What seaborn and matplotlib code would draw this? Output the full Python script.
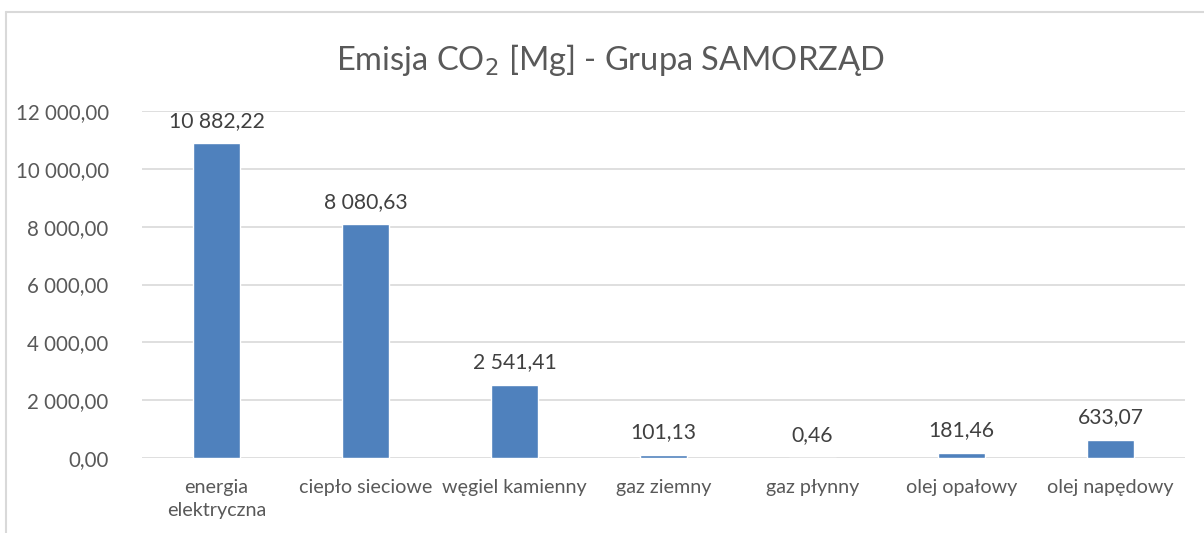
import matplotlib
matplotlib.use("Agg")
import matplotlib.pyplot as plt
import seaborn as sns
from matplotlib.lines import Line2D
from matplotlib.ticker import FuncFormatter

categories = ["energia\nelektryczna", "ciepło sieciowe", "węgiel kamienny", "gaz ziemny",
              "gaz płynny", "olej opałowy", "olej napędowy"]
values = [10882.22, 8080.63, 2541.41, 101.13, 0.46, 181.46, 633.07]
yticks = [0, 2000, 4000, 6000, 8000, 10000, 12000]

sns.set_theme(style="white")
plt.rcParams['font.family'] = ['Lato', 'DejaVu Sans']

def pl_fmt(v):
    s = f"{v:,.2f}"
    return s.replace(",", " ").replace(".", ",")

fig = plt.figure(figsize=(12.04, 5.33), dpi=100)
ax = fig.add_axes([142/1204, 1-458/533, (1185-142)/1204, (458-111)/533])

sns.barplot(x=categories, y=values, color="#4F81BD", width=0.31, ax=ax, saturation=1)

ax.set_ylim(0, 12000)
ax.set_yticks(yticks)
ax.yaxis.set_major_formatter(FuncFormatter(lambda v, p: pl_fmt(v)))
ax.yaxis.grid(True, color="#D9D9D9", lw=1.2)
ax.set_axisbelow(True)
for s in ax.spines.values():
    s.set_visible(False)
ax.tick_params(axis='y', labelsize=14.8, colors="#595959", length=0, pad=24)
ax.tick_params(axis='x', labelsize=14.2, colors="#595959", length=0, pad=15)
for lbl in ax.get_xticklabels():
    lbl.set_linespacing(1.45)
ax.set_xlabel("")
ax.set_ylabel("")

ax.bar_label(ax.containers[0], labels=[pl_fmt(v) for v in values], padding=9,
             fontsize=15.2, color="#404040")

fig.text(0.507, 1-60/533, "Emisja CO$_2$ [Mg] - Grupa SAMORZĄD", ha="center", va="center",
         fontsize=23.5, color="#595959")

fig.add_artist(Line2D([6/1204, 6/1204], [0, 1-12/533], color="#D9D9D9", lw=1.5, transform=fig.transFigure))
fig.add_artist(Line2D([6/1204, 1], [1-12/533, 1-12/533], color="#D9D9D9", lw=1.5, transform=fig.transFigure))

fig.savefig("out.png", dpi=100)
